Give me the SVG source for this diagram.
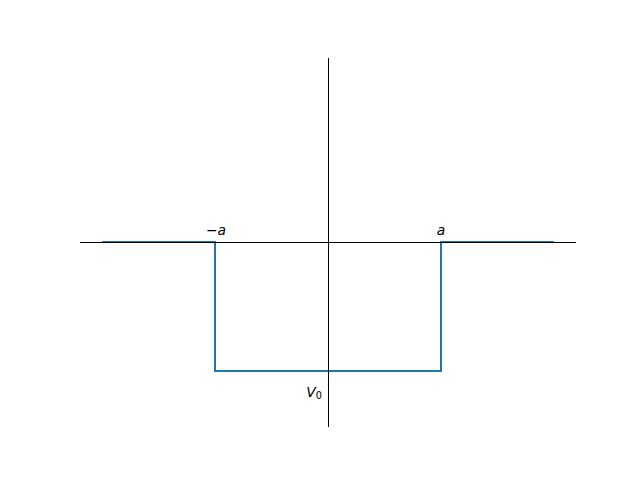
<svg xmlns="http://www.w3.org/2000/svg" width="640" height="480" viewBox="0 0 640 480">
<style>
.lbl{font-family:"DejaVu Sans",sans-serif;font-size:13.9px;fill:#000}
.it{font-style:italic}
</style>
<rect width="640" height="480" fill="#fff"/>
<g id="well">
<polyline points="102,242 215,242 215,371 441,371 441,242 554,242" fill="none" stroke="#1f77b4" stroke-width="2" stroke-linejoin="miter"/>
</g>
<g id="axes">
<line x1="80" y1="242.5" x2="576" y2="242.5" stroke="#000" stroke-width="1"/>
<line x1="328.5" y1="58" x2="328.5" y2="427" stroke="#000" stroke-width="1"/>
</g>
<g id="labels">
<text class="lbl" x="216" y="235" text-anchor="middle">−<tspan class="it">a</tspan></text>
<text class="lbl it" x="441" y="235" text-anchor="middle">a</text>
<text class="lbl" x="322" y="397" text-anchor="end"><tspan class="it">V</tspan><tspan font-size="9.7px" dy="2">0</tspan></text>
</g>
</svg>
